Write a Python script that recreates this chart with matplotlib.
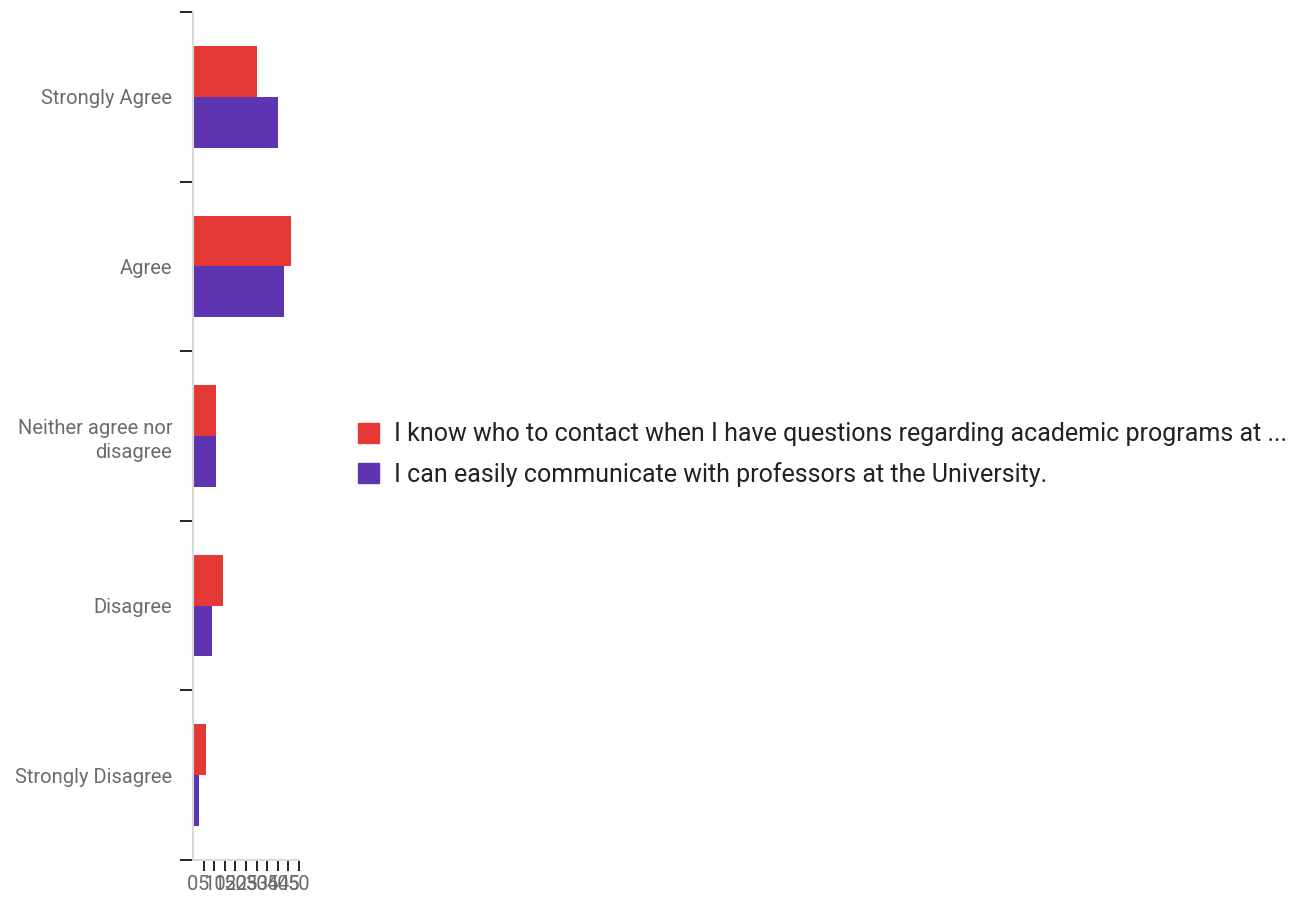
import matplotlib.pyplot as plt
import numpy as np
from matplotlib.patches import Patch

plt.rcParams['font.family'] = ['Roboto', 'DejaVu Sans']

categories = ['Strongly Agree', 'Agree', 'Neither agree nor\ndisagree', 'Disagree', 'Strongly Disagree']
series_names = ['I know who to contact when I have questions regarding academic programs at ...',
                'I can easily communicate with professors at the University.']
know_contact = [30, 46, 11, 14, 6]
communicate = [40, 43, 11, 9, 3]
x_ticks = [0, 5, 10, 15, 20, 25, 30, 35, 40, 45, 50]

red = '#e53935'
purple = '#5e35b1'

fig = plt.figure(figsize=(12.93, 9), dpi=100)
ax = fig.add_axes([193/1293, 1 - 860/900, 106/1293, 848/900])

y = np.arange(len(categories))
h = 0.3
ax.barh(y - h/2, know_contact, height=h, color=red)
ax.barh(y + h/2, communicate, height=h, color=purple)

ax.set_xlim(0, 50)
ax.set_ylim(len(categories) - 0.5, -0.5)

# category boundaries get tick marks, names sit in the middle
ax.set_yticks(np.arange(-0.5, len(categories), 1))
ax.set_yticklabels([])
ax.set_yticks(y, minor=True)
ax.set_yticklabels(categories, minor=True, fontsize=14.5, color='#6b6b6b', ha='right',
                   linespacing=1.35)
ax.tick_params(axis='y', which='major', length=9.5, width=1.4, color='#222222')
ax.tick_params(axis='y', which='minor', length=0, pad=15)

ax.set_xticks(x_ticks)
ax.set_xticklabels([str(v) for v in x_ticks], fontsize=14.5, color='#6b6b6b')
ax.tick_params(axis='x', length=8, width=1.4, color='#222222', pad=3)
ax.xaxis.get_major_ticks()[0].tick1line.set_visible(False)

for s in ['top', 'right']:
    ax.spines[s].set_visible(False)
for s in ['left', 'bottom']:
    ax.spines[s].set_color('#d9d9d9')
    ax.spines[s].set_linewidth(1.5)

handles = [Patch(color=red), Patch(color=purple)]
fig.legend(handles, series_names, loc='upper left', bbox_to_anchor=(335/1293, 1 - 400/900),
           frameon=False, fontsize=18, handlelength=0.85, handleheight=0.85,
           handletextpad=0.6, labelspacing=0.62, labelcolor='#222222')

fig.savefig('out.png', dpi=100)
